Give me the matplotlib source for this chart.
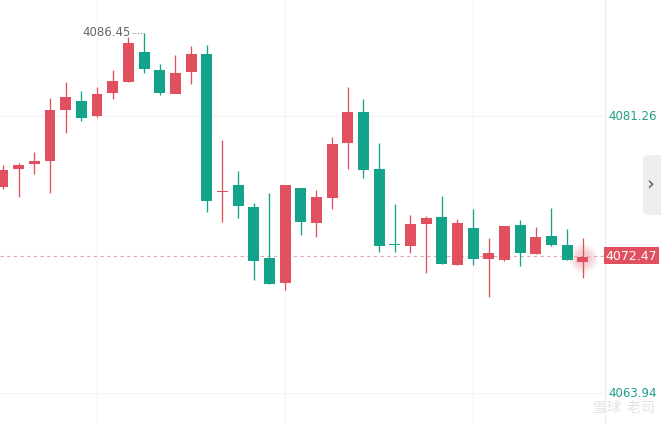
import numpy as np
from matplotlib import pyplot as plt
from matplotlib.patches import FancyBboxPatch, Rectangle

# candle data
open_ = [4076.82, 4077.97, 4078.28, 4078.47, 4081.65, 4082.20, 4081.26, 4082.72, 4083.40, 4085.26,
         4084.12, 4082.65, 4084.01, 4085.14, 4076.48, 4076.95, 4075.57, 4072.39, 4070.84, 4076.76,
         4074.59, 4076.15, 4079.59, 4081.51, 4077.95, 4073.29, 4073.15, 4074.53, 4074.97, 4071.97,
         4074.26, 4072.34, 4072.26, 4074.45, 4072.65, 4073.76, 4073.20, 4072.15]
high = [4078.20, 4078.30, 4078.99, 4082.40, 4083.37, 4082.82, 4083.09, 4084.14, 4086.20, 4086.45,
        4084.49, 4085.07, 4085.64, 4085.70, 4079.76, 4077.82, 4075.84, 4076.43, 4076.93, 4076.76,
        4076.63, 4079.95, 4083.09, 4082.32, 4079.57, 4075.76, 4075.07, 4075.01, 4076.26, 4074.80,
        4075.43, 4073.62, 4074.39, 4074.76, 4074.34, 4075.51, 4074.18, 4073.62]
low = [4076.70, 4076.18, 4077.62, 4076.47, 4080.22, 4080.97, 4081.18, 4082.34, 4083.40, 4083.97,
       4082.59, 4083.20, 4083.24, 4075.28, 4074.65, 4074.90, 4071.01, 4070.78, 4070.39, 4073.82,
       4073.70, 4075.43, 4077.93, 4077.40, 4072.78, 4072.78, 4072.72, 4071.43, 4072.03, 4071.97,
       4071.93, 4069.97, 4072.18, 4071.90, 4072.65, 4073.15, 4072.28, 4071.12]
close = [4077.89, 4078.20, 4078.45, 4081.64, 4082.45, 4081.15, 4082.64, 4083.45, 4085.84, 4084.22,
         4082.68, 4083.95, 4085.14, 4075.97, 4076.51, 4075.65, 4072.22, 4070.78, 4076.93, 4074.65,
         4076.20, 4079.51, 4081.51, 4077.90, 4073.12, 4073.18, 4074.53, 4074.89, 4072.03, 4074.57,
         4072.34, 4072.70, 4074.39, 4072.72, 4073.70, 4073.22, 4072.28, 4072.47]

axis_prices = [4081.26, 4063.94]
last_price = 4072.47
max_label = "4086.45"
grid_idx = [6, 18, 30]

RED = "#E0505F"
GREEN = "#12A38A"
TEAL = "#1E9E86"

W, H = 661, 424
fig = plt.figure(figsize=(W / 100, H / 100), dpi=100)
ax = fig.add_axes([0, 0, 1, 1])
ax.set_xlim(-0.19, 41.99)
ax.set_ylim(4062.01, 4088.51)
ax.axis("off")

x_edge = 38.42  # right border of the candle area

# grid
for p in axis_prices:
    ax.plot([-0.19, x_edge], [p, p], color="#f3f3f3", lw=0.8, zorder=0)
for g in grid_idx:
    ax.axvline(g, color="#f3f3f3", lw=0.8, zorder=0)
ax.axvline(x_edge, color="#ececec", lw=0.8, zorder=0)

# candles
x = np.arange(len(open_))
o, h, l, c = map(np.array, (open_, high, low, close))
cols = [RED if cc >= oo else GREEN for oo, cc in zip(o, c)]
ax.vlines(x, l, h, colors=cols, lw=0.95, zorder=2)
bottoms = np.minimum(o, c)
heights = np.maximum(np.abs(c - o), 0.09)
ax.bar(x, heights, bottom=bottoms, width=0.70, color=cols, lw=0, zorder=3)

# glow on last candle
for s, a in [(420, 0.08), (260, 0.1), (140, 0.12)]:
    ax.scatter([x[-1]], [last_price - 0.1], s=s, color=RED, alpha=a, lw=0, zorder=1)

# last price line and tag
ax.plot([-0.19, x_edge], [last_price + 0.06, last_price + 0.06], color="#eba3ab",
        lw=0.8, ls=(0, (3, 3)), zorder=1)
ax.add_patch(Rectangle((604 / W, 1 - 264 / H), 55 / W, 17 / H, transform=ax.transAxes,
                       color=RED, lw=0, zorder=4))
ax.text(631 / W, 1 - 256 / H, f"{last_price:.2f}", transform=ax.transAxes, color="white",
        fontsize=9, ha="center", va="center", zorder=5)

# axis labels
for p in axis_prices:
    ax.text(608 / W, 1 - (116 + (4081.26 - p) * 16) / H, f"{p:.2f}", transform=ax.transAxes,
            color=TEAL, fontsize=8.5, ha="left", va="center")

# max marker
imax = int(np.argmax(h))
ax.plot([imax - 0.75, imax], [h[imax], h[imax]], color="#888888", lw=0.8, ls=(0, (1, 1.5)))
ax.text(imax - 0.82, h[imax] + 0.05, max_label, color="#666666", fontsize=8.5,
        ha="right", va="center")

# side button
ax.add_patch(FancyBboxPatch((643 / W, 1 - 215 / H), 30 / W, 60 / H, transform=ax.transAxes,
                            boxstyle="round,pad=0,rounding_size=0.01", color="#eeeeee",
                            lw=0, zorder=4))
ax.text(650 / W, 1 - 184 / H, "›", transform=ax.transAxes, color="#555555", fontsize=14,
        ha="center", va="center", zorder=5)

# faint watermark
ax.text(655 / W, 1 - 408 / H, "雪球  老司", transform=ax.transAxes, color="#e2e2e2",
        fontsize=10, ha="right", va="center", family=["Noto Sans CJK SC", "DejaVu Sans"])

fig.savefig("out.png", dpi=100)
